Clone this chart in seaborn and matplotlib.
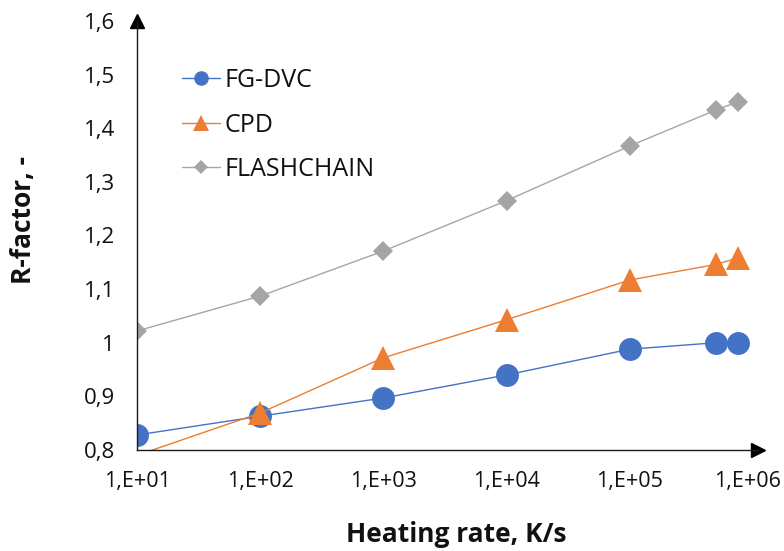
import numpy as np
import pandas as pd
import matplotlib
matplotlib.use("Agg")
import matplotlib.pyplot as plt
import matplotlib.transforms as mtransforms
import seaborn as sns
from matplotlib.ticker import FuncFormatter, FixedLocator

heating_rate = [1e1, 1e2, 1e3, 1e4, 1e5, 5e5, 7.5e5]
fg_dvc = [0.828, 0.863, 0.897, 0.940, 0.988, 1.000, 1.000]
cpd = [0.790, 0.869, 0.972, 1.043, 1.117, 1.146, 1.158]
flashchain = [1.022, 1.087, 1.171, 1.265, 1.367, 1.434, 1.449]
series_names = ["FG-DVC", "CPD", "FLASHCHAIN"]
x_ticks = [1e1, 1e2, 1e3, 1e4, 1e5, 1e6]
y_ticks = [0.8, 0.9, 1.0, 1.1, 1.2, 1.3, 1.4, 1.5, 1.6]

sns.set_style("white")
plt.rcParams['font.family'] = ['Open Sans', 'DejaVu Sans']

df = pd.concat([
    pd.DataFrame({"x": heating_rate, "y": vals, "model": name})
    for name, vals in zip(series_names, [fg_dvc, cpd, flashchain])
])

fig = plt.figure(figsize=(7.84, 5.51), dpi=100)
ax = fig.add_axes([137/784, 1-450/551, (758-137)/784, (450-21)/551])

colors = {"FG-DVC": "#4472C4", "CPD": "#ED7D31", "FLASHCHAIN": "#A5A5A5"}
markers = {"FG-DVC": "o", "CPD": "^", "FLASHCHAIN": "D"}
msizes = {"FG-DVC": 16.5, "CPD": 17.5, "FLASHCHAIN": 10}
leg_msizes = {"FG-DVC": 10.5, "CPD": 11, "FLASHCHAIN": 7}
ymin, ymax = 0.8, 1.6

for name in series_names:
    sub = df[df.model == name]
    vis = [bool(v >= ymin) for v in sub.y]
    sns.lineplot(data=sub, x="x", y="y", ax=ax, color=colors[name],
                 marker=markers[name], markersize=msizes[name],
                 markeredgewidth=0, linewidth=1.0, label=name,
                 markevery=vis, estimator=None, sort=False)

ax.set_xscale("log")
ax.set_xlim(10, 10**(1 + (758-137)/123.2))
ax.set_ylim(ymin, ymax)
ax.xaxis.set_major_locator(FixedLocator(x_ticks))
ax.xaxis.set_minor_locator(FixedLocator([]))
ax.set_yticks(y_ticks)

def xfmt(v, pos):
    return "1,E+%02d" % int(round(np.log10(v)))

def yfmt(v, pos):
    s = ("%.1f" % v)
    if s.endswith(".0"):
        s = s[:-2]
    return s.replace(".", ",")

ax.xaxis.set_major_formatter(FuncFormatter(xfmt))
ax.yaxis.set_major_formatter(FuncFormatter(yfmt))

for sp in ["top", "right"]:
    ax.spines[sp].set_visible(False)
for sp in ["left", "bottom"]:
    ax.spines[sp].set_color("#1a1a1a")
    ax.spines[sp].set_linewidth(1.0)

ax.tick_params(axis="both", direction="in", length=7, width=1, color="#1a1a1a",
               labelsize=16, labelcolor="#111111")
ax.tick_params(axis="x", pad=15, labelsize=15.5)
ax.tick_params(axis="y", pad=16)

# shift last x tick label slightly left so it stays inside the figure
fig.canvas.draw()
last = ax.get_xticklabels()[-1]
last.set_transform(last.get_transform() + mtransforms.ScaledTranslation(-6/100, 0, fig.dpi_scale_trans))

# axis arrows
ax.plot([1], [0], marker=">", markersize=10, color="black", transform=ax.transAxes, clip_on=False)
ax.plot([0], [1], marker="^", markersize=10, color="black", transform=ax.transAxes, clip_on=False)

ax.set_xlabel("Heating rate, K/s", fontsize=19, fontweight="bold", color="#111111", va="center")
ax.set_ylabel("R-factor, -", fontsize=19, fontweight="bold", color="#111111", va="center")
ax.xaxis.set_label_coords((456-137)/621, (450-535)/429)
ax.yaxis.set_label_coords((24-137)/621, (450-220)/429)

leg = ax.legend(loc="upper left", bbox_to_anchor=((182-137)/621, (450-68)/429),
                frameon=False, borderpad=0, borderaxespad=0,
                fontsize=18, handlelength=1.5, labelspacing=0.78, handletextpad=0.2)
for t in leg.get_texts():
    t.set_color("#111111")
for h, name in zip(leg.legend_handles, series_names):
    h.set_markersize(leg_msizes[name])

fig.savefig("out.png", dpi=100)
